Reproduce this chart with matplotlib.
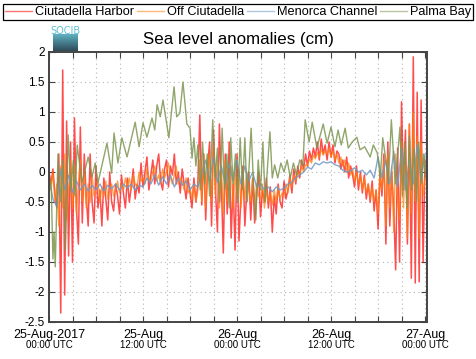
import numpy as np
import matplotlib
matplotlib.use("Agg")
import matplotlib.pyplot as plt
from matplotlib.ticker import MultipleLocator, FixedLocator
from matplotlib.colors import LinearSegmentedColormap
import matplotlib.transforms as mtransforms

plt.rcParams['font.family'] = ['Liberation Sans', 'DejaVu Sans']

# ---------------- data (hours since 25-Aug-2017 00:00 UTC, cm) ----------------
series_names = ["Ciutadella Harbor", "Off Ciutadella", "Menorca Channel", "Palma Bay"]
series_colors = ["#ff0000", "#ff7f0e", "#6f98c8", "#7d9650"]

step_red = 0.25
ciutadella_harbor = [
    0.0, -0.2, 0.05, -0.35,  -0.6, 0.3, -2.35, 1.7,   -2.05, 0.85, -1.4, 0.5,
    -1.5, 0.9, -0.6, -1.2,   0.75, -0.85, 0.3, -0.4,  -0.9, 0.3, -0.5, -0.85,
    0.1, -0.6, -0.3, -0.9,   -0.1, -0.45, -0.8, 0.0,  -0.5, -0.65, -0.2, -0.4,
    -0.7, -0.05, -0.35, -0.6, -0.1, -0.5, -0.25, 0.05, -0.45, -0.2, -0.35, 0.15,
    -0.25, 0.0, 0.25, -0.3,  -0.05, 0.2, -0.2, 0.1,   0.3, -0.15, -0.3, 0.05,
    0.2, -0.25, 0.1, -0.05,  0.3, -0.2, 0.0, -0.35,   0.05, -0.2, -0.45, -0.1,
    -0.35, -0.6, -0.1, -0.5, -0.2, 0.95, -0.55, 0.3,  -0.8, 0.1, 0.5, -0.9,
    0.7, -0.3, -1.0, 0.8,    -0.2, -1.35, 0.3, -0.7,  0.5, -1.1, -0.2, -1.3,
    0.3, -1.15, -0.4, 0.1,   -0.9, -0.3, 0.0, -0.8,   -0.1, -0.85, -0.4, 0.0,
    -0.75, -0.3, -0.5, -0.1, -0.6, -0.25, -1.0, -0.4, -0.7, -0.2, -0.5, -0.6,
    -0.15, -0.45, -0.3, -0.05, -0.35, 0.05, -0.2, 0.1, -0.1, 0.2, 0.05, 0.3,
    0.1, 0.35, 0.2, 0.4,     0.25, 0.5, 0.2, 0.55,    0.3, 0.45, 0.2, 0.5,
    0.25, 0.45, 0.15, 0.35,  0.3, 0.05, 0.2, 0.0,     0.25, -0.1, 0.1, -0.05,
    -0.25, 0.1, -0.3, 0.0,   -0.35, -0.05, -0.45, -0.2, -0.5, -0.15, -0.65, -0.3,
    -0.95, 0.0, -0.4, 0.3,   -1.2, 0.5, -0.9, 0.0,    -0.6, -1.63, 0.4, -1.5,
    1.17, -0.3, 0.7, -1.2,   0.8, -1.77, 1.92, -1.85, 1.33, -1.83, 1.2, -1.5,
    0.2,
]

off_ciutadella = [
    -0.1, -0.3, 0.0, -0.5,   -0.2, -0.9, 0.1, -0.6,   0.3, -0.8, -0.3, 0.2,
    -0.6, 0.1, -0.7, -0.2,   0.2, -0.5, 0.0, -0.6,    -0.2, -0.5, -0.05, -0.4,
    -0.3, -0.15, -0.5, -0.25, -0.4, -0.15, -0.45, -0.3, -0.2, -0.4, -0.3, -0.15,
    -0.35, -0.2, -0.3, -0.1, -0.25, -0.1, -0.3, -0.05, -0.2, -0.25, 0.0, -0.15,
    -0.1, -0.2, 0.05, -0.1,  -0.15, 0.0, 0.1, -0.15,  -0.05, -0.2, 0.05, -0.1,
    0.0, 0.15, -0.1, -0.2,   -0.05, 0.1, -0.2, -0.1,  -0.15, -0.3, -0.1, -0.35,
    -0.25, -0.45, -0.2, -0.5, -0.3, 0.2, -0.5, 0.3,   -0.6, 0.0, 0.3, -0.5,
    0.45, -0.4, 0.2, -0.6,   0.1, -0.7, 0.2, -0.5,    -0.1, 0.1, -0.6, 0.0,
    -0.4, 0.05, -0.6, -0.1,  -0.45, 0.0, -0.3, -0.5,  -0.1, -0.55, -0.2, -0.4,
    -0.45, -0.2, -0.6, -0.3, -0.5, -0.35, -0.55, -0.3, -0.5, -0.25, -0.45, -0.35,
    -0.4, -0.2, -0.35, -0.1, -0.25, -0.05, -0.15, 0.0, -0.05, 0.1, 0.0, 0.12,
    0.1, 0.22, 0.15, 0.28,   0.22, 0.32, 0.25, 0.38,  0.28, 0.35, 0.3, 0.4,
    0.25, 0.35, 0.2, 0.3,    0.15, 0.25, 0.1, 0.2,    0.0, 0.15, -0.05, 0.05,
    -0.15, 0.0, -0.2, -0.05, -0.3, -0.1, -0.35, -0.2, -0.45, -0.25, -0.5, -0.3,
    -0.7, 0.0, -0.3, 0.2,    -0.9, 0.3, -0.6, 0.1,    -1.0, 0.3, -0.4, -0.8,
    0.5, -0.6, 0.4, -1.1,    0.8, -0.7, 1.0, -0.5,    0.6, -1.1, 0.5, -0.4,
    -0.1,
]

step_blue = 0.5
menorca_channel = [
    -0.1, -0.45,  -0.58, 0.05,  -0.3, -0.05,  -0.35, -0.15,  -0.3, -0.2,
    -0.32, -0.22, -0.3, -0.2,   -0.32, -0.22, -0.28, -0.2,   -0.3, -0.2,
    -0.27, -0.2,  -0.3, -0.22,  -0.25, -0.1,  -0.2, -0.05,   -0.22, -0.08,
    -0.2, -0.05,  -0.25, -0.1,  -0.22, -0.15, -0.3, -0.2,    -0.25, -0.02,
    0.2, -0.15,   0.25, -0.18,  0.1, -0.2,    0.15, -0.15,   0.2, -0.2,
    0.1, -0.15,   0.0, -0.25,   -0.2, -0.3,   -0.25, -0.33,  -0.25, -0.3,
    -0.27, -0.2,  -0.17, -0.1,  -0.05, 0.0,   0.08, 0.05,    0.15, 0.12,
    0.17, 0.15,   0.17, 0.12,   0.1, 0.03,    0.0, 0.02,     0.07, 0.0,
    0.03, -0.05,  0.03, -0.1,   0.25, -0.1,   0.2, -0.2,     0.35, -0.25,
    0.4, -0.3,    0.2, -0.2,    0.45, -0.15,  0.3,
]

palma_t = [
    0.0, 0.3, 0.5, 0.65, 0.8, 1.15, 1.5, 1.8, 2.1, 2.45, 2.8, 3.1, 3.3, 3.6,
    4.2, 5.0, 5.5, 5.9, 6.25, 7.4, 8.0, 8.3, 8.8, 9.3, 9.96, 11.0, 11.5, 12.0,
    12.5, 13.15, 13.5, 13.8, 14.2, 14.55, 15.3, 15.96, 16.3, 16.7, 17.1, 17.6,
    18.0, 18.26, 18.5, 18.75, 19.0, 19.3, 19.6, 19.9, 20.2, 20.5, 20.9, 21.2,
    21.5, 21.8, 22.1, 22.4, 22.7, 23.0, 23.2, 23.5, 23.8, 24.1, 24.4, 24.7,
    25.0, 25.3, 25.8, 26.1, 26.4, 26.7, 27.0, 27.3, 27.6, 27.9, 28.2, 28.5,
    28.8, 29.2, 29.6, 30.0, 30.4, 30.8, 31.2, 31.6, 32.0, 32.4, 32.7, 33.2,
    33.6, 34.2, 35.0, 35.5, 36.0, 36.5, 36.9, 37.3, 37.8, 38.2, 38.7, 39.3,
    39.7, 40.3, 41.0, 41.4, 41.9, 42.3, 42.6, 43.0, 43.3, 43.7, 44.2, 44.8,
    45.1, 45.4, 45.7, 46.0, 46.3, 46.6, 46.9, 47.2, 47.5, 47.8, 48.1, 48.3,
]
palma_bay = [
    0.0, -0.3, -1.45, -1.0, -1.58, 0.3, -0.5, 0.2, -1.3, 0.62, -0.3, 0.2, -0.4, 0.45,
    -0.18, 0.25, -0.08, 0.15, -0.18, 0.48, -0.02, 0.65, 0.15, 0.57, 0.25, 0.83, 0.42, 0.82,
    0.58, 0.9, 0.7, 1.12, 0.92, 1.2, 0.57, 1.42, 0.92, 0.98, 1.5, 0.8,
    0.73, 0.23, 0.57, 0.1, 0.45, -0.3, 0.5, -0.2, 0.3, -0.4, 0.87, -0.1,
    0.4, -0.5, 0.73, -0.3, 0.3, -0.6, 0.57, -0.2, 0.3, -0.5, 0.57, -0.3,
    0.57, -0.5, 0.73, -0.2, -0.8, 0.2, -0.3, 0.5, -0.5, 0.1, 0.67, -0.1,
    0.12, -0.1, 0.15, 0.0, 0.2, -0.1, 0.15, -0.05, 0.2, 0.1, 0.87, 0.5,
    0.83, 0.4, 0.8, 0.48, 0.75, 0.42, 0.7, 0.45, 0.73, 0.4, 0.5, 0.58,
    0.37, 0.42, 0.25, 0.45, 0.32, -0.08, 0.57, 0.2, -0.2, 0.87, -0.2, 0.75,
    -0.4, 0.5, -0.6, 0.6, -0.3, 0.4, -0.5, 0.5, -0.2, 0.3, -0.1, 0.67,
]

major_hours = [0, 12, 24, 36, 48]
major_labels = ["25-Aug-2017", "25-Aug", "26-Aug", "26-Aug", "27-Aug"]
minor_labels = ["00:00 UTC", "12:00 UTC", "00:00 UTC", "12:00 UTC", "00:00 UTC"]
y_ticks = [-2.5, -2, -1.5, -1, -0.5, 0, 0.5, 1, 1.5, 2]
y_labels = ["-2.5", "-2", "-1.5", "-1", "-0.5", "0", "0.5", "1", "1.5", "2"]
title = "Sea level anomalies (cm)"

# ---------------- figure ----------------
W, H = 476, 359
fig = plt.figure(figsize=(W / 100, H / 100), dpi=100)
ax = fig.add_axes([49 / W, 1 - 322 / H, 378 / W, 270 / H])

t_red = np.arange(len(ciutadella_harbor)) * step_red
t_orange = np.arange(len(off_ciutadella)) * step_red
t_blue = np.arange(len(menorca_channel)) * step_blue

lines = []
lines += ax.plot(t_red, ciutadella_harbor, color=series_colors[0], lw=1.1, alpha=0.7)
lines += ax.plot(t_orange, off_ciutadella, color=series_colors[1], lw=1.0, alpha=0.75)
lines += ax.plot(t_blue, menorca_channel, color=series_colors[2], lw=1.0, alpha=0.85)
lines += ax.plot(palma_t, palma_bay, color=series_colors[3], lw=1.0, alpha=0.85)

ax.set_xlim(0, 48.25)
ax.set_ylim(-2.5, 2)
ax.xaxis.set_major_locator(FixedLocator(major_hours))
ax.xaxis.set_minor_locator(MultipleLocator(3))
ax.set_xticklabels(major_labels, fontsize=9)
ax.set_yticks(y_ticks)
ax.set_yticklabels(y_labels, fontsize=8.5)

ax.grid(True, which='both', axis='x', color='#b5b5b5', linestyle=(0, (1, 3)), lw=0.8)
ax.grid(True, which='major', axis='y', color='#b5b5b5', linestyle=(0, (1, 3)), lw=0.8)
ax.tick_params(which='both', direction='in', top=True, right=True, length=4,
               width=0.8, color='#444444')
ax.tick_params(axis='x', which='major', pad=5.0)
ax.tick_params(axis='y', pad=3)
for sp in ax.spines.values():
    sp.set_color('#444444')
    sp.set_linewidth(1.4)

trans = mtransforms.blended_transform_factory(ax.transData, ax.transAxes)
for h, lab in zip(major_hours, minor_labels):
    ax.text(h, -0.087, lab, transform=trans, ha='center', va='center', fontsize=7,
            clip_on=False)

ax.set_title(title, fontsize=12.2, pad=6)

leg = fig.legend(lines, series_names, loc='lower left', ncol=4, mode='expand',
                 bbox_to_anchor=(3 / W, 1 - 20 / H, 470 / W, 17 / H),
                 borderaxespad=0, fancybox=False, edgecolor='black', fontsize=9.2,
                 handlelength=2.1, handletextpad=0.25, columnspacing=0.3,
                 borderpad=0.15, framealpha=1)
leg.get_frame().set_linewidth(0.9)
for lh in leg.get_lines():
    lh.set_linewidth(1.0)
    lh.set_alpha(0.55)

# SOCIB logo
lax = fig.add_axes([53 / W, 1 - 51 / H, 25 / W, 23 / H])
grad = np.linspace(0, 1, 50).reshape(-1, 1)
cm = LinearSegmentedColormap.from_list('socib', ['#5fb2c2', '#2f4a58'])
lax.imshow(grad, aspect='auto', cmap=cm, extent=(0, 1, 0, 0.7))
lax.text(0.5, 0.86, "SOCIB", ha='center', va='center', fontsize=7,
         color='#5fbfd2', family='DejaVu Sans Condensed')
lax.set_xlim(0, 1)
lax.set_ylim(0, 1)
lax.axis('off')

fig.savefig("out.png", dpi=100)
